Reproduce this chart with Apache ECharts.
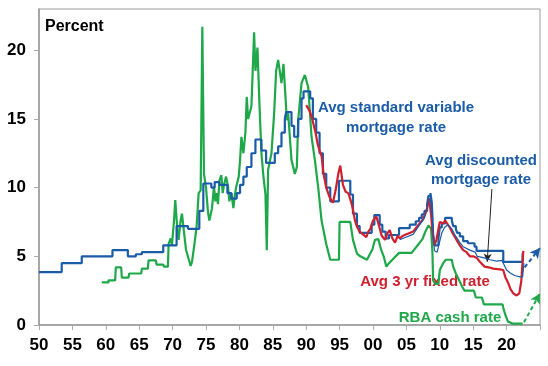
<!DOCTYPE html>
<html><head><meta charset="utf-8">
<script src="https://cdn.jsdelivr.net/npm/echarts@6/dist/echarts.min.js"></script>
<style>html,body{margin:0;padding:0;background:#fff}#c{width:548px;height:366px}</style>
</head><body><div id="c"></div>
<script>
// Avg standard variable mortgage rate (step changes: [year, rate from that year])
const stdVariable = [[1950,3.85],[1953.4,4.5],[1956.4,5.0],[1961.0,5.45],[1963.3,5.0],[1964.5,5.15],[1965.4,5.3],[1968.6,5.8],[1970.6,7.2],[1972.3,7.0],[1974.0,8.3],[1974.6,10.3],[1975.8,10.0],[1976.3,10.4],[1977.0,10.2],[1978.2,9.6],[1978.8,9.2],[1979.6,9.6],[1980.1,10.2],[1980.6,10.8],[1981.1,11.5],[1981.8,12.5],[1982.4,13.5],[1983.3,12.7],[1984.0,11.8],[1985.3,12.5],[1985.8,13.0],[1986.3,14.0],[1986.8,15.0],[1987.0,15.5],[1987.8,14.5],[1988.2,13.7],[1988.8,15.0],[1989.3,16.5],[1989.6,17.0],[1990.6,16.5],[1991.0,15.0],[1991.5,14.0],[1992.0,12.5],[1992.5,11.0],[1993.0,10.0],[1993.6,9.0],[1994.9,10.5],[1996.6,9.5],[1997.0,8.1],[1997.6,7.2],[1998.0,6.7],[1999.8,7.3],[2000.2,8.0],[2001.0,7.3],[2001.4,6.8],[2001.9,6.3],[2002.4,6.55],[2003.9,7.05],[2005.5,7.3],[2006.4,7.55],[2006.9,7.8],[2007.3,8.05],[2007.7,8.3],[2008.1,8.8],[2008.3,9.4],[2008.6,9.6],[2008.8,8.9],[2008.9,7.9],[2009.0,6.6],[2009.2,5.8],[2009.8,6.3],[2010.0,7.1],[2010.3,7.4],[2010.8,7.8],[2011.8,7.6],[2012.0,7.2],[2012.4,7.0],[2012.6,6.7],[2013.0,6.45],[2013.5,6.1],[2014.2,5.95],[2015.2,5.7],[2015.5,5.4],[2019.5,4.6],[2022.4,5.2],[2022.6,5.2]];
// Avg 3 yr fixed rate
const fixed3yr = [[1990.0,16.0],[1990.5,15.6],[1990.9,15.0],[1991.4,14.0],[1991.7,13.2],[1992.0,12.7],[1992.3,12.3],[1992.6,11.0],[1993.0,10.0],[1993.5,9.3],[1994.0,8.9],[1994.4,9.8],[1994.8,11.0],[1995.1,11.6],[1995.5,10.2],[1995.9,9.7],[1996.3,9.6],[1996.7,9.0],[1997.0,8.4],[1997.3,7.6],[1997.6,7.15],[1998.0,6.8],[1998.5,6.6],[1999.0,6.4],[1999.3,6.8],[1999.6,7.0],[2000.0,7.6],[2000.5,7.9],[2000.8,7.4],[2001.3,6.5],[2001.8,6.2],[2002.2,6.7],[2002.5,6.9],[2002.9,6.3],[2003.3,6.0],[2003.7,6.5],[2004.0,6.3],[2004.5,6.5],[2005.0,6.6],[2005.5,6.7],[2006.0,6.8],[2006.5,7.1],[2007.0,7.4],[2007.5,7.7],[2008.0,8.3],[2008.4,9.2],[2008.7,8.0],[2008.9,6.8],[2009.2,5.8],[2009.5,6.2],[2009.8,7.0],[2010.0,7.5],[2010.5,7.4],[2010.8,7.6],[2011.2,7.3],[2011.5,7.1],[2011.9,6.7],[2012.5,6.2],[2013.0,5.8],[2013.5,5.45],[2014.0,5.3],[2014.5,5.0],[2015.0,5.0],[2015.5,4.9],[2016.0,4.6],[2016.7,4.25],[2017.3,4.2],[2018.0,4.1],[2019.0,4.05],[2019.5,4.0],[2019.8,3.5],[2020.2,3.1],[2020.6,2.6],[2021.0,2.3],[2021.5,2.15],[2021.9,2.3],[2022.2,3.2],[2022.5,5.4]];
// Avg discounted mortgage rate
const discounted = [[2004.0,6.2],[2005.0,6.4],[2006.0,6.6],[2007.0,7.3],[2007.7,7.8],[2008.3,9.0],[2008.6,9.3],[2008.9,7.5],[2009.2,5.4],[2009.6,5.3],[2009.9,5.9],[2010.3,6.7],[2010.7,7.1],[2011.2,7.3],[2011.8,7.0],[2012.2,6.6],[2012.6,6.3],[2013.0,6.0],[2013.5,5.7],[2014.5,5.45],[2015.3,5.3],[2015.6,5.0],[2016.5,4.9],[2017.5,4.75],[2018.5,4.65],[2019.3,4.7],[2019.6,4.4],[2020.0,4.0],[2020.5,3.8],[2021.2,3.6],[2022.0,3.5],[2022.4,3.5],[2022.6,4.5]];
// RBA cash rate
const cashRate = [[1959.4,3.1],[1960.4,3.1],[1960.4,3.25],[1961.4,3.25],[1961.5,4.2],[1962.3,4.2],[1962.4,3.45],[1963.4,3.45],[1963.5,3.75],[1965.3,3.75],[1965.4,4.1],[1966.3,4.1],[1966.4,4.7],[1967.5,4.7],[1967.6,4.4],[1968.6,4.4],[1968.7,4.25],[1969.3,4.25],[1969.4,5.9],[1969.7,6.3],[1969.9,5.8],[1970.2,7.5],[1970.4,9.1],[1970.7,7.0],[1970.9,6.2],[1971.2,7.6],[1971.4,8.1],[1971.7,6.8],[1972.0,5.5],[1972.4,4.8],[1972.7,4.3],[1972.9,4.6],[1973.3,6.0],[1973.6,7.2],[1973.9,9.6],[1974.2,9.8],[1974.45,21.7],[1974.7,11.0],[1975.0,10.0],[1975.3,8.2],[1975.5,7.6],[1975.9,8.5],[1976.2,10.1],[1976.4,9.0],[1976.6,9.6],[1976.8,8.8],[1977.0,10.5],[1977.3,10.9],[1977.5,9.6],[1977.7,10.2],[1978.0,10.8],[1978.3,10.1],[1978.5,9.0],[1978.8,9.6],[1979.1,8.5],[1979.3,9.4],[1979.5,10.0],[1979.9,10.8],[1980.1,12.0],[1980.3,13.7],[1980.6,12.5],[1980.9,14.0],[1981.1,16.6],[1981.3,15.0],[1981.5,14.9],[1981.8,15.9],[1982.0,18.6],[1982.2,21.3],[1982.4,18.5],[1982.5,19.0],[1982.7,20.2],[1983.0,16.1],[1983.3,12.5],[1983.6,10.8],[1983.9,9.5],[1984.1,5.45],[1984.3,11.3],[1984.8,12.5],[1985.2,15.4],[1985.5,18.5],[1985.8,19.3],[1986.1,18.3],[1986.3,17.6],[1986.6,19.0],[1986.9,16.6],[1987.1,14.9],[1987.3,15.4],[1987.8,12.0],[1988.3,11.0],[1988.6,11.5],[1988.8,14.9],[1989.3,17.6],[1989.8,18.2],[1990.3,17.3],[1990.8,13.7],[1991.3,12.0],[1991.8,10.0],[1992.3,7.6],[1993.0,5.9],[1993.6,4.75],[1994.9,4.75],[1995.0,7.5],[1996.6,7.5],[1997.0,6.2],[1997.6,5.2],[1998.1,5.0],[1999.1,4.75],[1999.9,5.5],[2000.3,6.2],[2000.8,6.25],[2001.2,5.5],[2001.6,5.0],[2002.0,4.25],[2002.4,4.5],[2002.9,4.75],[2003.9,5.25],[2005.8,5.25],[2006.2,5.5],[2006.6,5.75],[2007.4,6.25],[2007.8,6.75],[2008.3,7.25],[2008.7,7.0],[2008.9,5.25],[2009.0,3.25],[2009.3,3.0],[2009.8,3.0],[2010.0,4.0],[2010.5,4.5],[2010.9,4.75],[2011.8,4.75],[2012.0,4.25],[2012.4,3.75],[2012.9,3.25],[2013.4,2.75],[2013.7,2.5],[2015.1,2.5],[2015.4,2.0],[2016.3,2.0],[2016.6,1.5],[2019.4,1.5],[2019.5,1.25],[2019.8,0.75],[2020.2,0.25],[2020.9,0.1],[2022.4,0.1]];
// Projection arrows [start, end]
const mortgageProj = [[2022.7,4.2],[2025,5.6]];
const cashProj = [[2022.6,0.2],[2025,2.3]];
const pointerArrow = [[2017.8,9.9],[2017.1,4.6]];
const xTicks = {min:1950, max:2025, step:5};
const yTicks = {min:0, max:23, step:5};

const BLUE='#1b5ca8', RED='#d0202e', GREEN='#1fa84a';
const F='"Liberation Sans", Arial, sans-serif';
const chart = echarts.init(document.getElementById('c'), null, {renderer:'canvas'});
function projLine(p, color){
  return {symbol:['none','arrow'], symbolSize:[8,10], silent:true, label:{show:false},
    lineStyle:{color:color, type:[4,3], width:2},
    data:[[{coord:p[0]},{coord:p[1]}]]};
}
chart.setOption({
  animation:false,
  grid:{left:39, right:8, top:9, bottom:41, show:true, borderColor:'#9a9a9a', borderWidth:1},
  xAxis:{type:'value', min:xTicks.min, max:xTicks.max, interval:xTicks.step,
    axisLine:{lineStyle:{color:'#9a9a9a', width:1.5}},
    axisTick:{show:true, length:5, lineStyle:{color:'#aaa'}},
    splitLine:{show:false},
    axisLabel:{margin:12, color:'#000', fontFamily:F, fontWeight:'bold', fontSize:17,
      formatter:v=> v>=2025 ? '' : String(v%100).padStart(2,'0')}},
  yAxis:{type:'value', min:yTicks.min, max:yTicks.max, interval:yTicks.step,
    axisLine:{show:true, lineStyle:{color:'#9a9a9a', width:1.5}},
    axisTick:{show:true, length:5, lineStyle:{color:'#aaa'}},
    splitLine:{show:false},
    axisLabel:{margin:13, color:'#000', fontFamily:F, fontWeight:'bold', fontSize:17, showMaxLabel:false,
      formatter:v=> (v%5===0 && v<=20) ? String(v) : ''}},
  series:[
    {type:'line', data:cashRate, showSymbol:false, lineStyle:{color:GREEN, width:2.2}, z:2,
      markLine:projLine(cashProj, GREEN)},
    {type:'line', data:stdVariable, step:'end', showSymbol:false, lineStyle:{color:BLUE, width:2.2}, z:3,
      markLine:projLine(mortgageProj, BLUE)},
    {type:'line', data:fixed3yr, showSymbol:false, lineStyle:{color:RED, width:2.2}, z:4},
    {type:'line', data:discounted, showSymbol:false, lineStyle:{color:BLUE, width:1.2}, z:5,
      markLine:{symbol:['none','arrow'], symbolSize:[6,8], silent:true, label:{show:false},
        lineStyle:{color:'#222', type:'solid', width:1},
        data:[[{coord:pointerArrow[0]},{coord:pointerArrow[1]}]]}}
  ],
  graphic:[
    {type:'text', left:45, top:19, style:{text:'Percent', font:'bold 16px '+F, fill:'#000'}},
    {type:'text', x:396, y:108, style:{text:'Avg standard variable', font:'bold 15px '+F, fill:BLUE, align:'center', verticalAlign:'middle'}},
    {type:'text', x:396, y:128, style:{text:'mortgage rate', font:'bold 15px '+F, fill:BLUE, align:'center', verticalAlign:'middle'}},
    {type:'text', x:481, y:161, style:{text:'Avg discounted', font:'bold 15px '+F, fill:BLUE, align:'center', verticalAlign:'middle'}},
    {type:'text', x:481, y:180, style:{text:'mortgage rate', font:'bold 15px '+F, fill:BLUE, align:'center', verticalAlign:'middle'}},
    {type:'text', x:425, y:282, style:{text:'Avg 3 yr fixed rate', font:'bold 15px '+F, fill:RED, align:'center', verticalAlign:'middle'}},
    {type:'text', x:450, y:318, style:{text:'RBA cash rate', font:'bold 15px '+F, fill:GREEN, align:'center', verticalAlign:'middle'}}
  ]
});
</script></body></html>
